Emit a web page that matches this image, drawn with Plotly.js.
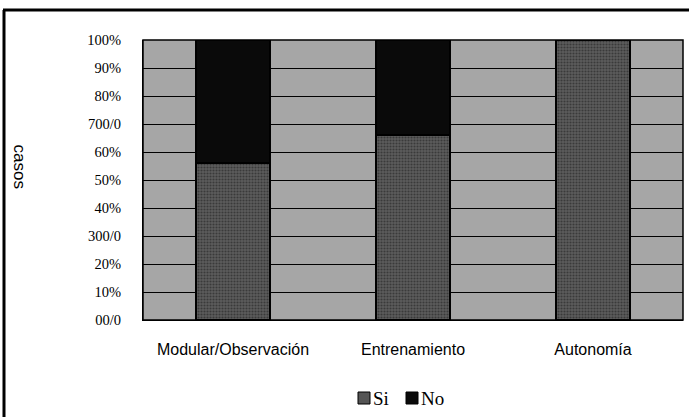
<!DOCTYPE html>
<html>
<head>
<meta charset="utf-8">
<script src="https://cdn.plot.ly/plotly-3.0.1.min.js"></script>
<style>html,body{margin:0;padding:0;background:#fff;}#chart{width:689px;height:417px;}</style>
</head>
<body>
<div id="chart"></div>
<script>
const categories = ["Modular/Observación", "Entrenamiento", "Autonomía"];
const siValues = [56, 66, 100];
const noValues = [44, 34, 0];
const tickValues = [0, 10, 20, 30, 40, 50, 60, 70, 80, 90, 100];
const tickLabels = ["00/0", "10%", "20%", "300/0", "40%", "50%", "60%", "700/0", "80%", "90%", "100%"];
const seriesNames = ["Si", "No"];
const seriesColors = ["#555555", "#0a0a0a"];

const W = 689, H = 417;
const m = {l: 143, r: 6, t: 40, b: 97};
const pw = W - m.l - m.r, ph = H - m.t - m.b;
const px = x => (x - m.l) / pw;
const py = y => (H - m.b - y) / ph;

const traces = [
  {type: "bar", name: seriesNames[0], x: categories, y: siValues,
   marker: {color: seriesColors[0], line: {color: "#000", width: 2.5},
            pattern: {shape: ".", fgcolor: "#3a3a3a", bgcolor: "#5c5c5c", size: 3, solidity: 0.4}},
   width: 0.41},
  {type: "bar", name: seriesNames[1], x: categories, y: noValues,
   marker: {color: seriesColors[1], line: {color: "#000", width: 2.5}},
   width: 0.41}
];

// legend drawn manually (compact, like the reference)
const legendItems = [
  {name: seriesNames[0], color: seriesColors[0], sx: 358, tx: 371},
  {name: seriesNames[1], color: seriesColors[1], sx: 406, tx: 419}
];
const legendShapes = legendItems.map(it => ({
  type: "rect", xref: "paper", yref: "paper",
  x0: px(it.sx), x1: px(it.sx + 12), y0: py(404), y1: py(392),
  fillcolor: it.color, line: {color: "#000", width: 1}
}));
const legendTexts = legendItems.map(it => ({
  text: it.name, xref: "paper", yref: "paper", x: px(it.tx), y: py(398),
  xanchor: "left", yanchor: "middle", showarrow: false,
  font: {family: "Liberation Serif", size: 19, color: "#000"}
}));

const layout = {
  width: W, height: H, margin: m,
  barmode: "stack",
  paper_bgcolor: "#fff",
  plot_bgcolor: "#a6a6a6",
  showlegend: false,
  xaxis: {type: "category", showgrid: false, zeroline: false, showline: true, linecolor: "#000", linewidth: 1,
          ticks: "", ticklabelstandoff: 15,
          tickfont: {family: "Liberation Sans", size: 16, color: "#000"}},
  yaxis: {range: [0, 100], tickvals: tickValues, ticktext: tickLabels,
          showgrid: true, gridcolor: "#000", gridwidth: 1, zeroline: false,
          showline: true, linecolor: "#000", linewidth: 1, ticks: "", ticklabelstandoff: 18,
          tickfont: {family: "Liberation Serif", size: 14.5, color: "#000"}},
  annotations: [
    {text: "casos", xref: "paper", yref: "paper", x: px(8), y: py(166), textangle: 90,
     showarrow: false, font: {family: "Liberation Sans", size: 17, color: "#000"}}
  ].concat(legendTexts),
  shapes: [
    {type: "line", xref: "paper", yref: "paper", x0: px(4), x1: px(4), y0: py(10), y1: py(417), line: {color: "#000", width: 3}},
    {type: "line", xref: "paper", yref: "paper", x0: px(3), x1: px(689), y0: py(10), y1: py(10), line: {color: "#000", width: 3}},
    {type: "rect", xref: "paper", yref: "paper", x0: 0, x1: 1, y0: 0, y1: 1, line: {color: "#000", width: 1.5}, layer: "above"}
  ].concat(legendShapes)
};

Plotly.newPlot("chart", traces, layout, {displayModeBar: false, staticPlot: true});
</script>
</body>
</html>
